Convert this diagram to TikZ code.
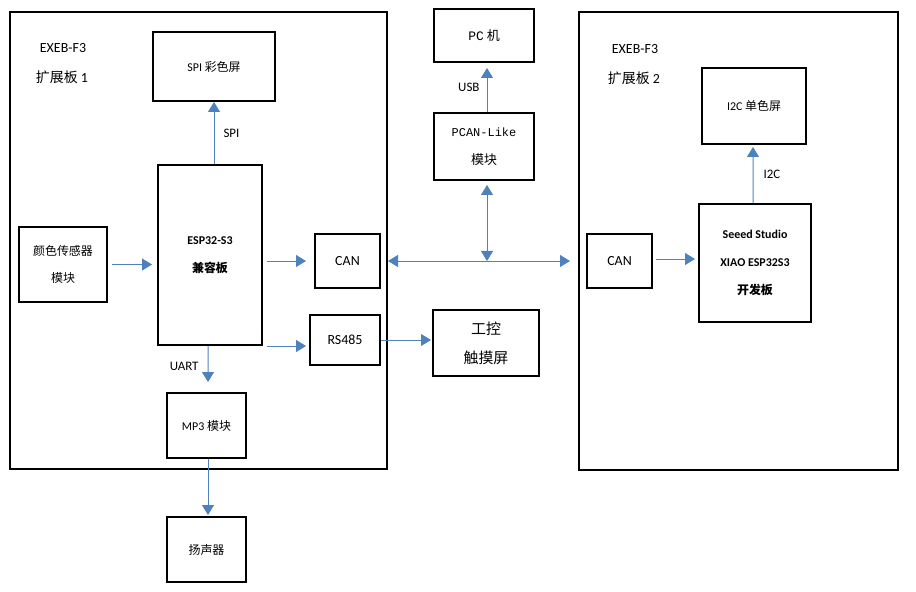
\documentclass[tikz,border=0pt]{standalone}
\usepackage{fontspec}
\usepackage{tikz}
\usetikzlibrary{arrows.meta}
\setmainfont{Carlito}
\newfontfamily\zh{Noto Sans CJK SC}
\newfontfamily\mono{Liberation Mono}
\definecolor{linkblue}{RGB}{79,129,189}

\begin{document}
\begin{tikzpicture}[x=1bp, y=-1bp,
    box/.style={draw, line width=2bp, inner sep=0pt, align=center,
                font=\fontsize{13}{28}\selectfont},
    wh/.style 2 args={minimum width=#1bp, minimum height=#2bp},
    board/.style={draw, line width=2bp, inner sep=0pt},
    arrow/.style={-{Triangle[length=10bp,width=12bp]}, line width=1bp, color=linkblue},
    dblarrow/.style={{Triangle[length=10bp,width=12bp]}-{Triangle[length=10bp,width=12bp]},
                line width=1bp, color=linkblue},
    lbl/.style={font=\fontsize{13}{15}\selectfont, inner sep=0pt, text=black}
]
    \useasboundingbox (0,0) rectangle (916,592);

    % Boards
    \node[board, wh={377}{457}] (board1) at (198.5, 240.5) {};
    \node[board, wh={319}{458}] (board2) at (738.5, 241) {};
    \node[lbl, font=\fontsize{14}{16}\selectfont] (name1) at (63, 48) {EXEB-F3};
    \node[lbl, font=\fontsize{14}{16}\selectfont] (title1) at (62, 77) {{\zh 扩展板} 1};
    \node[lbl, font=\fontsize{14}{16}\selectfont] (name2) at (635, 49) {EXEB-F3};
    \node[lbl, font=\fontsize{14}{16}\selectfont] (title2) at (634, 78) {{\zh 扩展板} 2};

    % Expansion board 1
    \node[box, wh={122}{69}, font=\fontsize{12}{28}\selectfont] (spi) at (214, 66.5)
        {SPI {\zh 彩色屏}};
    \node[box, wh={104}{180}, font=\bfseries\fontsize{12}{28}\selectfont] (esp) at (210, 255)
        {ESP32-S3\\{\zh\bfseries 兼容板}};
    \node[box, wh={88}{75}, font=\fontsize{12}{28}\selectfont] (sensor) at (63, 264.5)
        {{\zh 颜色传感器}\\{\zh 模块}};
    \node[box, wh={65}{54}, font=\fontsize{14}{28}\selectfont] (can1) at (347.5, 261) {CAN};
    \node[box, wh={70}{50}, font=\fontsize{14}{28}\selectfont] (rs) at (345, 340) {RS485};
    \node[box, wh={79}{65}, font=\fontsize{12}{28}\selectfont] (mp3) at (206.5, 425.5)
        {MP3 {\zh 模块}};
    \node[box, wh={79}{65}, font=\fontsize{12}{28}\selectfont] (spk) at (206.5, 549.5)
        {{\zh 扬声器}};

    % PC side
    \node[box, wh={100}{53}] (pc) at (484, 35.5) {{\mono PC} {\zh 机}};
    \node[box, wh={100}{67}] (pcan) at (484, 146.5)
        {{\mono\fontsize{12}{28}\selectfont PCAN-Like}\\{\zh 模块}};
    \node[box, wh={106}{66}, font=\fontsize{15}{29}\selectfont] (hmi) at (486, 343)
        {{\zh 工控}\\{\zh 触摸屏}};

    % Expansion board 2
    \node[box, wh={65}{54}, font=\fontsize{14}{28}\selectfont] (can2) at (619.5, 261) {CAN};
    \node[box, wh={112}{118}, font=\bfseries\fontsize{12}{28.5}\selectfont] (xiao) at (755, 263)
        {Seeed Studio\\XIAO ESP32S3\\{\zh\bfseries 开发板}};
    \node[box, wh={104}{76}, font=\fontsize{12}{28}\selectfont] (oled) at (754, 106)
        {I2C {\zh 单色屏}};

    \coordinate (bus) at (pcan.south |- can1.east);

    % Arrows
    \draw[arrow] (spi.south |- esp.north) -- node[lbl, right=9bp] {SPI} (spi.south);
    \draw[arrow, shorten <=4bp, shorten >=5bp] (sensor.east) -- (sensor.east -| esp.west);
    \draw[arrow, shorten <=4bp, shorten >=8bp] (esp.east |- can1.west) -- (can1.west);
    \draw[arrow, shorten <=4bp, shorten >=3bp] ([yshift=-6bp]esp.east |- rs.west) -- ([yshift=-6bp]rs.west);
    \draw[arrow, shorten >=10bp] ([xshift=-2bp]esp.south) -- node[lbl, left=9bp, pos=0.45] {UART}
        ([xshift=1.5bp]mp3.north);
    \draw[arrow, shorten >=1bp] ([xshift=1.5bp]mp3.south) -- ([xshift=1.5bp]spk.north);
    \draw[arrow, shorten >=5bp] ([xshift=3bp]pcan.north) -- node[lbl, left=7bp] {USB}
        ([xshift=3bp]pc.south);
    \draw[dblarrow, shorten <=4bp] ([xshift=3bp]pcan.south) -- ([xshift=3bp]bus);
    \draw[dblarrow, shorten >=8bp] (board1.east |- bus) -- (board2.west |- bus);
    \draw[arrow, shorten >=1bp] (rs.east) -- (rs.east -| hmi.west);
    \draw[arrow, shorten <=3bp, shorten >=3bp] ([yshift=2bp]can2.east) -- ([yshift=2bp]can2.east -| xiao.west);
    \draw[arrow, shorten >=2bp] ([xshift=-2bp]xiao.north) -- node[lbl, right=10bp] {I2C}
        ([xshift=-1bp]oled.south);
\end{tikzpicture}
\end{document}
